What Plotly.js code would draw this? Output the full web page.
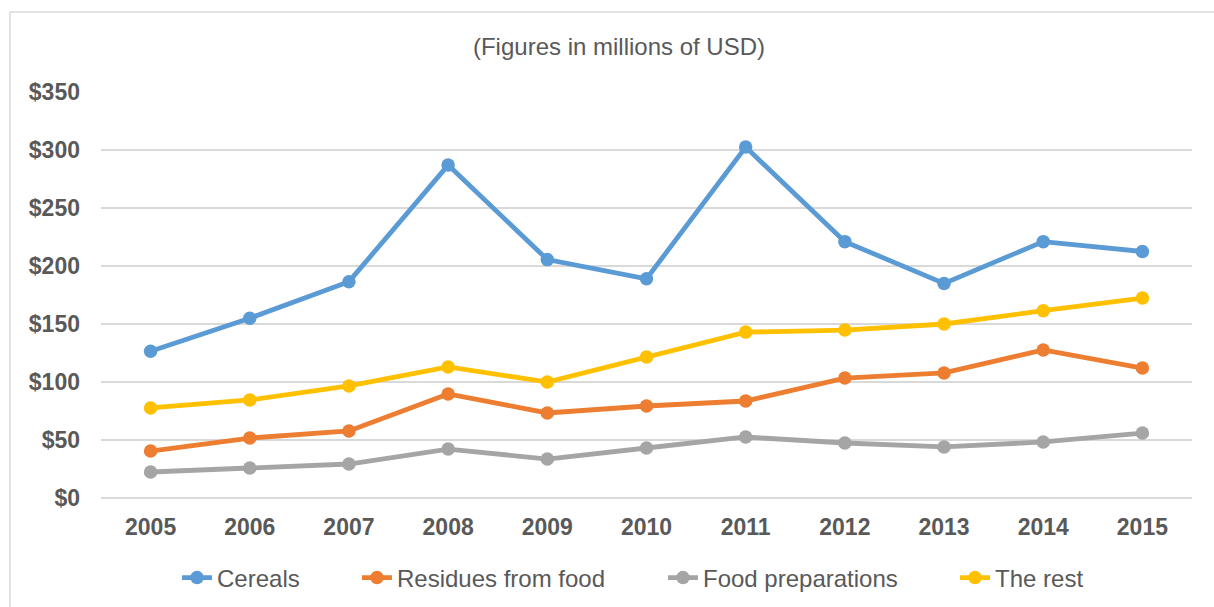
<!DOCTYPE html>
<html>
<head>
<meta charset="utf-8">
<script src="https://cdn.plot.ly/plotly-3.0.1.min.js"></script>
<style>
html,body{margin:0;padding:0;background:#fff;}
#chart{width:1214px;height:607px;}
</style>
</head>
<body>
<div id="chart"></div>
<script>
const years = ['2005','2006','2007','2008','2009','2010','2011','2012','2013','2014','2015'];
const cereals = [126.5, 155, 186.5, 287, 205.5, 189, 302.5, 221, 185, 221, 212.5];
const residues = [40.5, 51.7, 57.8, 89.7, 73.3, 79.3, 83.6, 103.4, 107.8, 127.6, 112];
const foodPrep = [22.4, 25.9, 29.3, 42.2, 33.6, 43.1, 52.6, 47.4, 44, 48.3, 56];
const theRest = [77.6, 84.5, 96.6, 113, 100, 121.6, 143, 144.8, 150, 161.5, 172.4];
const seriesNames = ['Cereals','Residues from food','Food preparations','The rest'];
const seriesColors = ['#5B9BD5','#ED7D31','#A5A5A5','#FFC000'];
const seriesData = [cereals, residues, foodPrep, theRest];

const legendIds = ['legend','legend2','legend3','legend4'];
const legendX = [0.0697, 0.2346, 0.5151, 0.7828];
const FONT = 'Liberation Sans, Arial, sans-serif';

const traces = seriesData.map((d, i) => ({
  type: 'scatter',
  mode: 'lines+markers',
  x: years,
  y: d,
  name: seriesNames[i],
  legend: legendIds[i],
  line: {color: seriesColors[i], width: 4.8},
  marker: {color: seriesColors[i], size: 13.5}
}));

const layout = {
  width: 1214,
  height: 607,
  margin: {l: 101, r: 22, t: 92, b: 109, autoexpand: false},
  paper_bgcolor: '#ffffff',
  plot_bgcolor: '#ffffff',
  font: {family: FONT, color: '#595959'},
  title: {
    text: '(Figures in millions of USD)',
    font: {size: 24, color: '#595959', family: FONT},
    x: 619 / 1214, xanchor: 'center', xref: 'container',
    y: 1 - 47 / 607, yanchor: 'middle', yref: 'container'
  },
  xaxis: {
    type: 'category',
    range: [-0.5, 10.5],
    showgrid: false,
    showline: false,
    zeroline: false,
    ticks: '',
    automargin: false,
    tickfont: {size: 23, color: '#595959', family: FONT, weight: 'bold'},
    ticklabelstandoff: 13
  },
  yaxis: {
    range: [0, 350],
    dtick: 50,
    tickprefix: '$',
    showgrid: true,
    gridcolor: '#d9d9d9',
    gridwidth: 1.5,
    zeroline: true,
    zerolinecolor: '#d9d9d9',
    zerolinewidth: 1.5,
    showline: false,
    ticks: '',
    automargin: false,
    ticklabelstandoff: 20,
    tickfont: {size: 23, color: '#595959', family: FONT, weight: 'bold'}
  },
  shapes: [{
    type: 'rect', xref: 'paper', yref: 'paper',
    x0: (10 - 101) / 1091, x1: (1230 - 101) / 1091,
    y0: (498 - 630) / 406, y1: (498 - 12) / 406,
    line: {color: '#d9d9d9', width: 1.5},
    fillcolor: 'rgba(0,0,0,0)',
    layer: 'below'
  }],
  showlegend: true
};

legendIds.forEach((id, i) => {
  layout[id] = {
    orientation: 'h',
    x: legendX[i], xanchor: 'left',
    y: -0.197, yanchor: 'middle',
    bgcolor: 'rgba(0,0,0,0)',
    borderwidth: 0,
    font: {size: 24, color: '#595959', family: FONT}
  };
});

Plotly.newPlot('chart', traces, layout, {displayModeBar: false, staticPlot: true});
</script>
</body>
</html>
